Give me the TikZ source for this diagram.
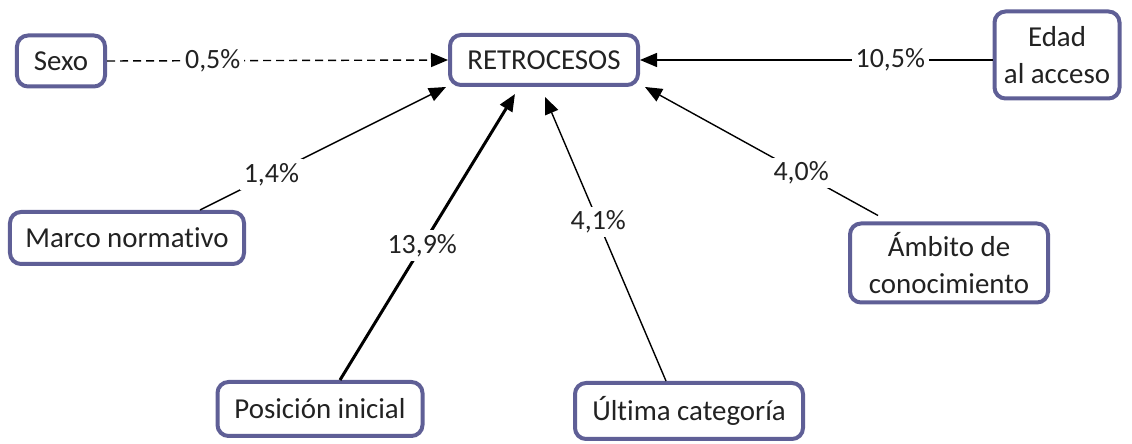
\documentclass[tikz,border=0pt]{standalone}
\usepackage{fontspec}
\setmainfont[Ligatures=NoCommon]{Carlito}
\usetikzlibrary{arrows.meta,calc}
\definecolor{boxline}{HTML}{5F5F96}
\definecolor{txt}{HTML}{222222}
\begin{document}
\begin{tikzpicture}[x=1bp,y=-1bp,
  every node/.style={text=txt,font=\fontsize{29}{37}\selectfont},
  factor/.style={draw=boxline,line width=4bp,rounded corners=11bp,fill=white,
    align=center,inner sep=0pt},
  link/.style={line width=1.4bp,-{Triangle[length=17bp,width=14bp]}},
  pct/.style={fill=white,inner sep=4bp,font=\fontsize{28}{30}\selectfont}]
\useasboundingbox (0,0) rectangle (1132,444);

% factor boxes
\node[factor,minimum width=88bp,minimum height=51bp]  (sexo)  at (61,61)   {Sexo};
\node[factor,minimum width=188bp,minimum height=50bp] (ret)   at (544,60)  {RETROCESOS};
\node[factor,minimum width=125bp,minimum height=87bp] (edad)  at (1057,55) {Edad\\al acceso};
\node[factor,minimum width=234bp,minimum height=52bp] (marco) at (127,238) {Marco normativo};
\node[factor,minimum width=198bp,minimum height=79bp] (amb)   at (949,263) {Ámbito de\\conocimiento};
\node[factor,minimum width=205bp,minimum height=54bp] (pos)   at (320,409) {Posición inicial};
\node[factor,minimum width=228bp,minimum height=56bp] (ult)   at (689,411) {Última categoría};

% effects on RETROCESOS
\draw[link,dashed,dash pattern=on 8bp off 5bp] (sexo.east) -- (ret.west)
  node[pct,pos=0.31] {0,5\%};
\draw[link] (edad.west |- ret.east) -- (ret.east)
  node[pct,pos=0.29] {10,5\%};
\draw[link] ($(marco.north)+(73,0)$) -- ($(ret.south west)+(-2,0)$)
  node[pct,pos=0.29] {1,4\%};
\draw[link,line width=3bp] ($(pos.north)+(20,0)$) -- ($(ret.south)+(-29,7)$)
  node[pct,pos=0.47] {13,9\%};
\draw[link] ($(ult.north)+(-23,0)$) -- ($(ret.south)+(1,10)$)
  node[pct,pos=0.56] {4,1\%};
\draw[link] ($(amb.north)+(-71,-6)$) -- ($(ret.south east)+(5,0)$)
  node[pct,pos=0.33] {4,0\%};
\end{tikzpicture}
\end{document}
